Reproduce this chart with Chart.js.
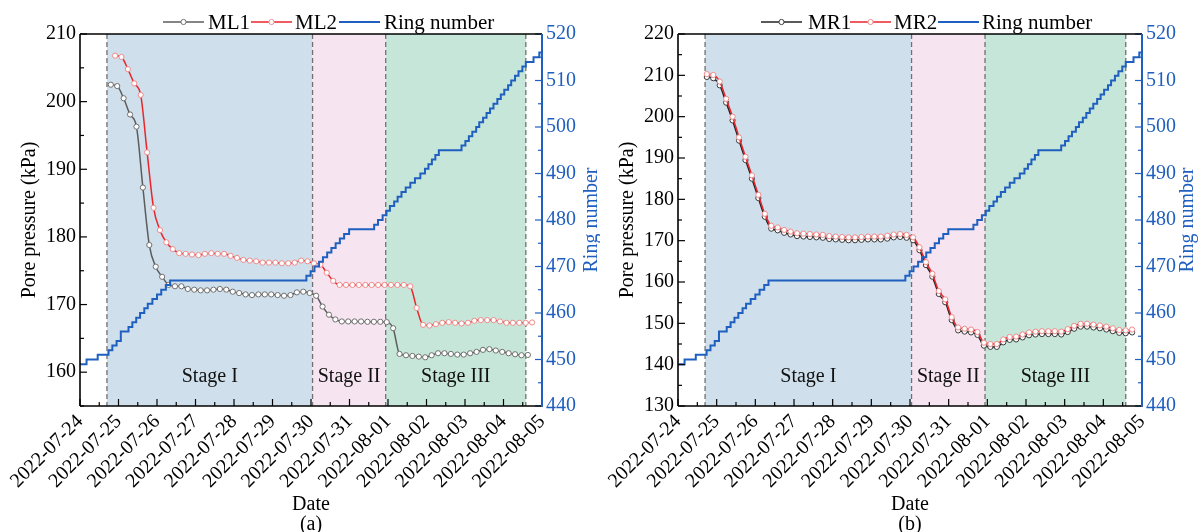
<!DOCTYPE html>
<html>
<head>
    <meta charset="UTF-8">
    <title>Pore pressure and ring number</title>
    <script src="https://cdn.jsdelivr.net/npm/chart.js"></script>
    <style>
        body { margin: 0; background: #fff; }
        #wrap { position: relative; width: 1200px; height: 532px; }
        .panel { position: absolute; top: 0; width: 600px; height: 532px; }
    </style>
</head>
<body>
<div id="wrap">
    <div class="panel" style="left:0"><canvas id="chartA" width="600" height="532"></canvas></div>
    <div class="panel" style="left:600px"><canvas id="chartB" width="600" height="532"></canvas></div>
</div>

<script>
    // x values are days after 2022-07-24 00:00
    const dateLabels = ['2022-07-24', '2022-07-25', '2022-07-26', '2022-07-27', '2022-07-28',
        '2022-07-29', '2022-07-30', '2022-07-31', '2022-08-01', '2022-08-02',
        '2022-08-03', '2022-08-04', '2022-08-05'];

    const stageEdges = [0.70, 6.04, 7.94, 11.58];
    const stageNames = ['Stage I', 'Stage II', 'Stage III'];

    // ring number: time of each advance and the ring reached
    const ringTimes = [0.00, 0.17, 0.46, 0.74, 0.84, 0.95, 1.06, 1.26, 1.36, 1.46, 1.56, 1.67, 1.76,
        1.88, 2.00, 2.11, 2.23, 2.34, 5.88, 5.99, 6.09, 6.21, 6.31, 6.42, 6.53, 6.64, 6.75, 6.86,
        6.99, 7.64, 7.74, 7.86, 7.96, 8.05, 8.16, 8.25, 8.35, 8.46, 8.58, 8.70, 8.84, 8.96, 9.05,
        9.14, 9.23, 9.32, 9.91, 10.01, 10.10, 10.19, 10.29, 10.37, 10.47, 10.56, 10.65, 10.74,
        10.84, 10.93, 11.02, 11.12, 11.20, 11.30, 11.39, 11.49, 11.58, 11.78, 11.93, 12.00];
    const ringValues = [449, 450, 451, 452, 453, 454, 456, 457, 458, 459, 460, 461, 462,
        463, 464, 465, 466, 467, 468, 469, 470, 471, 472, 473, 474, 475, 476, 477,
        478, 479, 480, 481, 482, 483, 484, 485, 486, 487, 488, 489, 490, 491, 492,
        493, 494, 495, 496, 497, 498, 499, 500, 501, 502, 503, 504, 505,
        506, 507, 508, 509, 510, 511, 512, 513, 514, 515, 516, 516];

    // pore pressure readings, one every 4 hours from the first reading
    const readingStep = 1 / 6;
    const ml1Start = 0.80;
    const ml2Start = 0.91;
    const mrStart = 0.745;

    const ml1 = [202.5, 202.3, 200.5, 198.1, 196.3, 187.3, 178.8, 175.6, 174.1, 172.9,
        172.7, 172.7, 172.3, 172.2, 172.1, 172.1, 172.2, 172.3, 172.2, 171.9,
        171.7, 171.5, 171.4, 171.5, 171.5, 171.5, 171.4, 171.3, 171.4, 171.8,
        171.9, 171.7, 171.3, 169.7, 168.5, 167.8, 167.5, 167.5, 167.5, 167.5,
        167.45, 167.45, 167.45, 167.4, 166.5, 162.7, 162.5, 162.4, 162.3, 162.2,
        162.5, 162.8, 162.8, 162.7, 162.6, 162.6, 162.8, 163.0, 163.3, 163.4,
        163.2, 163.0, 162.8, 162.65, 162.5, 162.55];

    const ml2 = [206.8, 206.6, 204.8, 202.7, 201.0, 192.5, 184.3, 181.0, 179.2, 178.2,
        177.6, 177.5, 177.4, 177.3, 177.5, 177.6, 177.5, 177.5, 177.2, 176.9,
        176.6, 176.5, 176.4, 176.2, 176.2, 176.2, 176.1, 176.1, 176.2, 176.5,
        176.4, 176.1, 175.9, 174.7, 173.5, 172.9, 172.9, 172.9, 172.9, 172.9,
        172.9, 172.9, 172.9, 172.9, 172.9, 172.9, 172.7, 169.5, 167.0, 166.9,
        167.1, 167.3, 167.4, 167.3, 167.2, 167.3, 167.6, 167.7, 167.7, 167.7,
        167.5, 167.3, 167.3, 167.3, 167.3, 167.35];

    const mr1 = [209.6, 209.3, 207.6, 203.4, 199.1, 194.2, 189.5, 185.0, 180.3, 175.8,
        172.9, 172.5, 171.9, 171.5, 171.1, 171.0, 170.9, 170.8, 170.7, 170.4,
        170.3, 170.2, 170.1, 170.1, 170.2, 170.3, 170.3, 170.3, 170.5, 170.8,
        170.9, 170.7, 170.1, 167.7, 164.1, 161.3, 157.1, 155.1, 150.8, 148.3,
        148.0, 147.8, 147.2, 144.6, 144.3, 144.3, 145.4, 146.0, 146.1, 146.6,
        147.1, 147.3, 147.4, 147.4, 147.4, 147.3, 147.9, 148.7, 149.2, 149.2,
        149.0, 148.8, 148.5, 148.1, 147.7, 147.6, 147.8];

    const mr2 = [210.3, 210.1, 208.5, 204.3, 200.0, 195.0, 190.3, 185.8, 181.1, 176.5,
        173.6, 173.2, 172.6, 172.2, 171.8, 171.7, 171.6, 171.5, 171.4, 171.1,
        171.0, 170.9, 170.8, 170.8, 170.9, 171.0, 171.0, 171.0, 171.2, 171.5,
        171.6, 171.4, 170.8, 168.4, 164.8, 162.0, 157.8, 155.8, 151.5, 149.0,
        148.7, 148.5, 147.9, 145.3, 145.0, 145.0, 146.1, 146.7, 146.8, 147.3,
        147.8, 148.0, 148.1, 148.1, 148.1, 148.0, 148.6, 149.4, 149.9, 149.9,
        149.7, 149.5, 149.2, 148.8, 148.4, 148.3, 148.5];

    const FONT = '"Liberation Serif", "Times New Roman", serif';
    const ringBlue = '#1f5fbf';
    const stageColors = ['#cfe0ec', '#f6e4f0', '#c7e6da'];

    Chart.defaults.font.family = FONT;
    Chart.defaults.font.size = 20;
    Chart.defaults.color = '#000';

    function seg(ctx, x0, y0, x1, y1) {
        ctx.beginPath();
        ctx.moveTo(x0, y0);
        ctx.lineTo(x1, y1);
        ctx.stroke();
    }

    // shaded stages, dashed boundaries and stage names
    const stagePlugin = {
        id: 'stages',
        beforeDatasetsDraw(chart) {
            const { ctx, chartArea: a, scales: { x } } = chart;
            const px = stageEdges.map(t => x.getPixelForValue(t));
            ctx.save();
            for (let k = 0; k < stageNames.length; k++) {
                ctx.fillStyle = stageColors[k];
                ctx.fillRect(px[k], a.top, px[k + 1] - px[k], a.bottom - a.top);
            }
            ctx.strokeStyle = '#707070';
            ctx.lineWidth = 1.3;
            ctx.setLineDash([5, 3]);
            px.forEach(p => seg(ctx, p, a.top, p, a.bottom));
            ctx.setLineDash([]);
            ctx.fillStyle = '#111';
            ctx.font = '20px ' + FONT;
            ctx.textAlign = 'center';
            ctx.textBaseline = 'middle';
            stageNames.forEach((s, k) => ctx.fillText(s, (px[k] + px[k + 1]) / 2, a.bottom - 29));
            ctx.restore();
        }
    };

    // axis frame with inward ticks, right axis title
    const framePlugin = {
        id: 'frame',
        afterDraw(chart, args, o) {
            const { ctx, chartArea: a, scales } = chart;
            ctx.save();
            ctx.lineWidth = 1.2;
            ctx.strokeStyle = '#000';
            for (let d = scales.x.min; d <= scales.x.max + 1e-9; d += 0.5) {
                const p = scales.x.getPixelForValue(d);
                seg(ctx, p, a.bottom, p, a.bottom - (Number.isInteger(d) ? 7 : 4));
            }
            for (let v = scales.y.min; v <= scales.y.max; v += 5) {
                const p = scales.y.getPixelForValue(v);
                seg(ctx, a.left, p, a.left + (v % 10 === 0 ? 7 : 4), p);
            }
            ctx.strokeStyle = ringBlue;
            for (let v = scales.y1.min; v <= scales.y1.max; v += 5) {
                const p = scales.y1.getPixelForValue(v);
                seg(ctx, a.right, p, a.right - (v % 10 === 0 ? 7 : 4), p);
            }
            ctx.lineWidth = 1.6;
            ctx.strokeStyle = '#000';
            seg(ctx, a.left, a.top, a.right, a.top);
            seg(ctx, a.left, a.top, a.left, a.bottom);
            seg(ctx, a.left, a.bottom, a.right, a.bottom);
            ctx.lineWidth = 2;
            ctx.strokeStyle = ringBlue;
            seg(ctx, a.right, a.top, a.right, a.bottom + 1);

            ctx.translate(o.titleX, (a.top + a.bottom) / 2);
            ctx.rotate(-Math.PI / 2);
            ctx.fillStyle = ringBlue;
            ctx.font = '20px ' + FONT;
            ctx.textAlign = 'center';
            ctx.textBaseline = 'middle';
            ctx.fillText('Ring number', 0, 0);
            ctx.restore();
        }
    };

    // legend row above the plot: line sample (with marker) then label
    const keyPlugin = {
        id: 'keyLegend',
        afterDraw(chart, args, o) {
            const { ctx } = chart;
            ctx.save();
            ctx.font = '21px ' + FONT;
            ctx.textAlign = 'left';
            ctx.textBaseline = 'middle';
            chart.data.datasets.forEach((ds, i) => {
                const it = o.items[i];
                ctx.strokeStyle = ds.borderColor;
                ctx.lineWidth = ds.borderWidth;
                seg(ctx, it[0], o.y, it[1], o.y);
                if (ds.pointRadius > 0) {
                    ctx.beginPath();
                    ctx.arc((it[0] + it[1]) / 2, o.y, 2.6, 0, 2 * Math.PI);
                    ctx.fillStyle = '#fff';
                    ctx.fill();
                    ctx.lineWidth = 1;
                    ctx.strokeStyle = ds.pointBorderColor;
                    ctx.stroke();
                }
                ctx.fillStyle = '#000';
                ctx.fillText(ds.label, it[2], o.y + 1);
            });
            ctx.restore();
        }
    };

    function readings(start, values) {
        return values.map((v, i) => ({ x: start + i * readingStep, y: v }));
    }

    function pressureSet(label, start, values, line, marker, order) {
        return {
            label: label,
            data: readings(start, values),
            yAxisID: 'y',
            borderColor: line,
            borderWidth: 1.5,
            pointRadius: 2.6,
            pointBorderWidth: 1,
            pointBackgroundColor: '#fff',
            pointBorderColor: marker,
            cubicInterpolationMode: 'monotone',
            order: order
        };
    }

    function buildChart(id, cfg) {
        return new Chart(document.getElementById(id), {
            type: 'line',
            data: {
                datasets: [
                    pressureSet(cfg.names[0], cfg.starts[0], cfg.series[0], cfg.lineColors[0], cfg.markerColors[0], 2),
                    pressureSet(cfg.names[1], cfg.starts[1], cfg.series[1], '#e8262b', '#f08a8a', 1),
                    {
                        label: 'Ring number',
                        data: ringTimes.map((t, i) => ({ x: t, y: ringValues[i] })),
                        yAxisID: 'y1',
                        stepped: true,
                        borderColor: ringBlue,
                        borderWidth: 2,
                        pointRadius: 0,
                        order: 0
                    }
                ]
            },
            options: {
                responsive: false,
                animation: false,
                devicePixelRatio: 1,
                events: [],
                layout: { padding: { top: 34, left: 0, right: 0, bottom: 0 } },
                plugins: {
                    legend: { display: false },
                    tooltip: { enabled: false },
                    keyLegend: { y: 22, items: cfg.legend },
                    frame: { titleX: cfg.ringTitleX }
                },
                scales: {
                    x: {
                        type: 'linear',
                        min: 0,
                        max: 12,
                        grid: { display: false, drawTicks: false },
                        border: { display: false },
                        ticks: {
                            stepSize: 1,
                            autoSkip: false,
                            maxRotation: 45,
                            minRotation: 45,
                            padding: 4,
                            callback: v => dateLabels[Math.round(v)]
                        },
                        title: {
                            display: true,
                            text: ['Date', cfg.tag],
                            font: { size: 20, lineHeight: 1 },
                            padding: { top: 0, bottom: -3 }
                        },
                        afterFit: s => { s.height = 126; }
                    },
                    y: {
                        position: 'left',
                        min: cfg.yMin,
                        max: cfg.yMax,
                        grid: { display: false, drawTicks: false },
                        border: { display: false },
                        ticks: { stepSize: 10, includeBounds: false, padding: 4 },
                        title: {
                            display: true,
                            text: 'Pore pressure (kPa)',
                            padding: { top: cfg.titlePad, bottom: 0 }
                        },
                        afterFit: s => { s.width = cfg.left; }
                    },
                    y1: {
                        position: 'right',
                        min: 440,
                        max: 520,
                        grid: { display: false, drawTicks: false },
                        border: { display: false },
                        ticks: { stepSize: 10, color: ringBlue, padding: 4 },
                        afterFit: s => { s.width = 600 - cfg.right; }
                    }
                }
            },
            plugins: [stagePlugin, framePlugin, keyPlugin]
        });
    }

    buildChart('chartA', {
        names: ['ML1', 'ML2'],
        starts: [ml1Start, ml2Start],
        series: [ml1, ml2],
        lineColors: ['#5c5c5c'],
        markerColors: ['#707070'],
        yMin: 155, yMax: 210,
        left: 80, right: 542,
        titlePad: 18,
        ringTitleX: 592,
        tag: '(a)',
        legend: [[163, 204, 208], [251, 292, 295], [339, 380, 384]]
    });

    buildChart('chartB', {
        names: ['MR1', 'MR2'],
        starts: [mrStart, mrStart],
        series: [mr1, mr2],
        lineColors: ['#222222'],
        markerColors: ['#3a3a3a'],
        yMin: 130, yMax: 220,
        left: 78, right: 542,
        titlePad: 16,
        ringTitleX: 588,
        tag: '(b)',
        legend: [[161, 202, 208], [250, 291, 294], [338, 379, 382]]
    });
</script>
</body>
</html>
